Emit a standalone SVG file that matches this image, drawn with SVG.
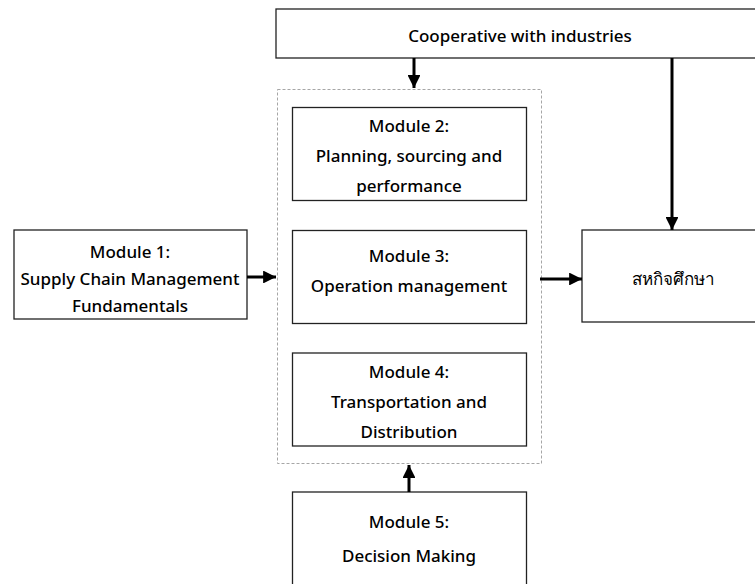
<svg xmlns="http://www.w3.org/2000/svg" width="755" height="584" viewBox="0 0 755 584">
<style>
  .box{fill:#fff;stroke:#222;stroke-width:1.3}
  .grp{fill:none;stroke:#a6a6a6;stroke-width:1;stroke-dasharray:3,2}
  .t{font-family:"Noto Sans","DejaVu Sans",sans-serif;font-size:17px;font-weight:500;fill:#000;text-anchor:middle}
  .c{stroke:#000;stroke-width:3;fill:none}
</style>
<defs>
  <marker id="ah" viewBox="0 0 10 10" refX="10" refY="5" markerWidth="4.3" markerHeight="4.3" markerUnits="strokeWidth" orient="auto">
    <path d="M0,0 L10,5 L0,10 z" fill="#000"/>
  </marker>
</defs>
<rect class="grp" x="277.5" y="89.5" width="264" height="374"/>
<g id="coop">
  <rect class="box" x="276" y="9" width="490" height="49"/>
  <text class="t" x="520" y="42">Cooperative with industries</text>
</g>
<g id="m1">
  <rect class="box" x="14" y="230" width="233" height="89"/>
  <text class="t" x="130" y="258">Module 1:</text>
  <text class="t" x="130" y="285">Supply Chain Management</text>
  <text class="t" x="130" y="312">Fundamentals</text>
</g>
<g id="m2">
  <rect class="box" x="292.5" y="107.5" width="234" height="93"/>
  <text class="t" x="409" y="132">Module 2:</text>
  <text class="t" x="409" y="162">Planning, sourcing and</text>
  <text class="t" x="409" y="192">performance</text>
</g>
<g id="m3">
  <rect class="box" x="292.5" y="230.5" width="234" height="93"/>
  <text class="t" x="409" y="262">Module 3:</text>
  <text class="t" x="409" y="292">Operation management</text>
</g>
<g id="m4">
  <rect class="box" x="292.5" y="353" width="234" height="93"/>
  <text class="t" x="409" y="378">Module 4:</text>
  <text class="t" x="409" y="408">Transportation and</text>
  <text class="t" x="409" y="438">Distribution</text>
</g>
<g id="m5">
  <rect class="box" x="292.5" y="492" width="234" height="100"/>
  <text class="t" x="409" y="528">Module 5:</text>
  <text class="t" x="409" y="562">Decision Making</text>
</g>
<g id="coop-edu">
  <rect class="box" x="582" y="230" width="190" height="92"/>
  <text class="t" x="673" y="285">สหกิจศึกษา</text>
</g>
<g id="connectors">
  <line class="c" x1="414" y1="58" x2="414" y2="88" marker-end="url(#ah)"/>
  <line class="c" x1="672" y1="58" x2="672" y2="230" marker-end="url(#ah)"/>
  <line class="c" x1="247" y1="277" x2="276" y2="277" marker-end="url(#ah)"/>
  <line class="c" x1="540" y1="279" x2="582" y2="279" marker-end="url(#ah)"/>
  <line class="c" x1="409" y1="492" x2="409" y2="465" marker-end="url(#ah)"/>
</g>
</svg>
